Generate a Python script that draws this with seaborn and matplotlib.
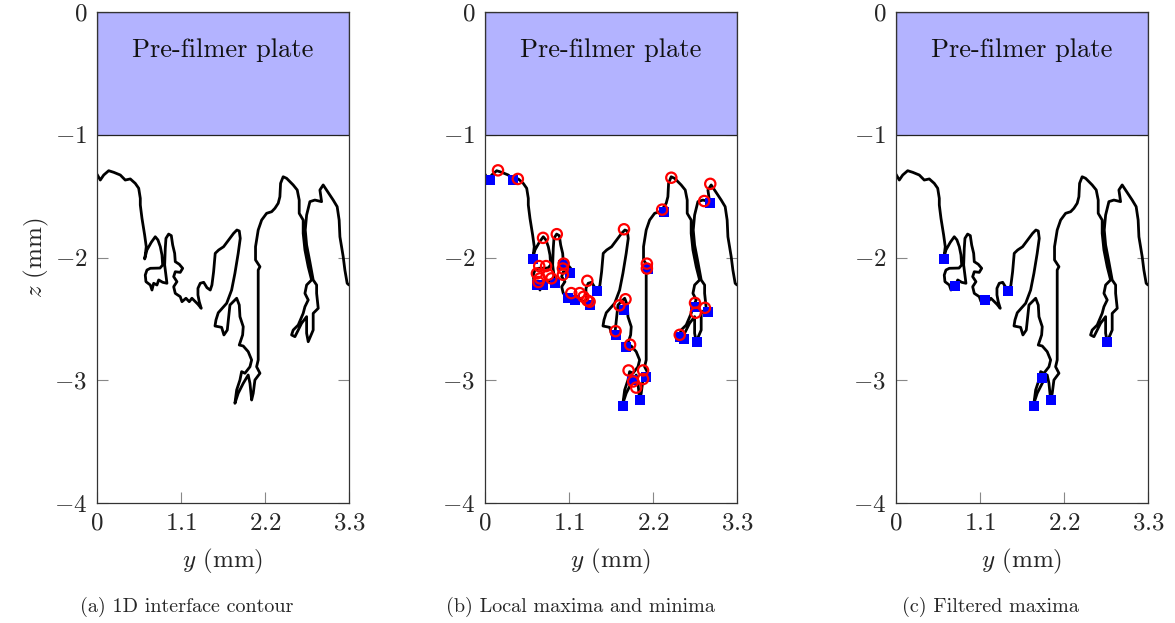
import numpy as np
import pandas as pd
import matplotlib
matplotlib.use("Agg")
import matplotlib.pyplot as plt
from matplotlib.patches import Rectangle
import seaborn as sns

# Interface contour traced along the sheet edge (y in mm, z in mm)
contour_y = [
    0.00, 0.043, 0.088, 0.153, 0.219, 0.305, 0.370, 0.436, 0.501, 0.546,
    0.567, 0.567, 0.589, 0.624, 0.645, 0.632, 0.624, 0.654, 0.711, 0.763,
    0.798, 0.829, 0.851, 0.860, 0.825, 0.698, 0.654, 0.632, 0.641, 0.698,
    0.720, 0.742, 0.785, 0.808, 0.860, 0.916, 0.903, 0.886, 0.894, 0.903,
    0.938, 0.973, 0.991, 1.017, 1.025, 1.077, 1.122, 1.090, 1.025, 1.004,
    1.047, 1.004, 1.025, 1.090, 1.113, 1.165, 1.208, 1.243, 1.287, 1.322,
    1.365, 1.339, 1.322, 1.322, 1.352, 1.397, 1.440, 1.483, 1.505, 1.527,
    1.548, 1.593, 1.658, 1.724, 1.789, 1.832, 1.863, 1.876, 1.849, 1.806,
    1.763, 1.698, 1.588, 1.558, 1.545, 1.632, 1.662, 1.706, 1.741, 1.829,
    1.863, 1.872, 1.915, 1.907, 1.863, 1.915, 1.980, 2.025, 2.003, 1.937,
    1.894, 1.872, 1.829, 1.806, 1.849, 1.915, 1.980, 2.003, 2.025, 2.046,
    2.068, 2.134, 2.090, 2.111, 2.111, 2.111, 2.111, 2.134, 2.076, 2.076,
    2.111, 2.156, 2.221, 2.287, 2.330, 2.373, 2.395, 2.404, 2.438, 2.483,
    2.569, 2.622, 2.648, 2.648, 2.700, 2.700, 2.723, 2.766, 2.810, 2.745,
    2.723, 2.766, 2.723, 2.700, 2.635, 2.569, 2.548, 2.592, 2.679, 2.745,
    2.745, 2.766, 2.831, 2.831, 2.897, 2.876, 2.876, 2.831, 2.788, 2.745,
    2.727, 2.745, 2.788, 2.853, 2.941, 2.919, 2.962, 3.006, 3.093, 3.145,
    3.171, 3.181, 3.224, 3.246, 3.276, 3.300,
]
contour_z = [
    -1.322, -1.369, -1.328, -1.293, -1.306, -1.328, -1.369, -1.360, -1.396, -1.436,
    -1.518, -1.572, -1.681, -1.817, -1.912, -1.980, -2.012, -1.939, -1.876, -1.831,
    -1.857, -1.912, -1.980, -2.061, -2.086, -2.088, -2.102, -2.143, -2.197, -2.224,
    -2.265, -2.210, -2.224, -2.183, -2.202, -2.210, -2.143, -2.061, -1.925, -1.844,
    -1.809, -1.822, -1.898, -1.966, -2.034, -2.055, -2.088, -2.121, -2.116, -2.156,
    -2.197, -2.238, -2.292, -2.319, -2.360, -2.332, -2.360, -2.332, -2.360, -2.381,
    -2.414, -2.360, -2.305, -2.251, -2.210, -2.202, -2.246, -2.265, -2.224, -2.116,
    -1.966, -1.939, -1.912, -1.857, -1.803, -1.776, -1.784, -1.844, -1.966, -2.129,
    -2.265, -2.373, -2.450, -2.509, -2.558, -2.569, -2.631, -2.591, -2.387, -2.332,
    -2.387, -2.482, -2.564, -2.631, -2.713, -2.721, -2.767, -2.835, -2.890, -2.943,
    -2.930, -2.998, -3.079, -3.188, -3.106, -3.025, -2.957, -3.025, -3.161, -3.106,
    -2.998, -2.943, -2.890, -2.835, -2.591, -2.346, -2.102, -2.075, -2.020, -1.912,
    -1.776, -1.695, -1.640, -1.627, -1.599, -1.558, -1.505, -1.396, -1.342, -1.355,
    -1.409, -1.450, -1.532, -1.640, -1.695, -1.803, -1.939, -2.075, -2.183, -2.224,
    -2.292, -2.346, -2.401, -2.455, -2.550, -2.591, -2.631, -2.645, -2.536, -2.482,
    -2.617, -2.686, -2.591, -2.455, -2.414, -2.292, -2.224, -2.183, -2.037, -1.898,
    -1.776, -1.654, -1.545, -1.532, -1.545, -1.450, -1.409, -1.450, -1.532, -1.586,
    -1.695, -1.831, -1.993, -2.102, -2.210, -2.224,
]

# Local minima found along the contour
minima_y = [0.07, 0.37, 0.63, 0.68, 0.76, 0.92, 1.02, 1.11, 1.09, 1.18,
            1.37, 1.47, 1.71, 1.82, 1.85, 1.92, 1.81, 2.03, 2.11, 2.13,
            2.34, 2.56, 2.61, 2.75, 2.77, 2.92, 2.95]
minima_z = [-1.37, -1.37, -2.01, -2.22, -2.22, -2.21, -2.06, -2.13, -2.33, -2.35,
            -2.39, -2.27, -2.63, -2.43, -2.73, -3.00, -3.21, -3.16, -2.97, -2.09,
            -1.63, -2.65, -2.66, -2.40, -2.69, -2.44, -1.56]

# Local maxima found along the contour
maxima_y = [0.17, 0.43, 0.76, 0.94, 0.71, 0.80, 0.68, 0.83, 0.72, 0.70,
            0.87, 1.03, 1.02, 1.02, 1.13, 1.24, 1.29, 1.34, 1.37, 1.34,
            1.82, 1.84, 1.76, 1.71, 1.90, 1.88, 2.07, 2.07, 1.94, 1.98,
            2.12, 2.12, 2.32, 2.44, 2.55, 2.75, 2.76, 2.88, 2.87, 2.95]
maxima_z = [-1.29, -1.36, -1.84, -1.81, -2.07, -2.07, -2.13, -2.14, -2.17, -2.20,
            -2.17, -2.05, -2.09, -2.14, -2.29, -2.29, -2.32, -2.35, -2.36, -2.19,
            -1.77, -2.34, -2.39, -2.60, -2.71, -2.92, -2.92, -2.99, -3.01, -3.06,
            -2.05, -2.09, -1.61, -1.35, -2.63, -2.37, -2.45, -2.41, -1.54, -1.40]

# Maxima kept after filtering
filtered_y = [0.63, 0.77, 1.17, 1.47, 1.91, 1.81, 2.03, 2.76]
filtered_z = [-2.01, -2.23, -2.35, -2.27, -2.98, -3.21, -3.16, -2.69]

x_ticks = [0, 1.1, 2.2, 3.3]
x_tick_labels = ["$0$", "$1.1$", "$2.2$", "$3.3$"]
z_ticks = [0, -1, -2, -3, -4]
z_tick_labels = ["$0$", "$-1$", "$-2$", "$-3$", "$-4$"]
plate_label = "Pre-filmer plate"
captions = ["(a) 1D interface contour", "(b) Local maxima and minima",
            "(c) Filtered maxima"]

sns.set_style("ticks")
plt.rcParams["font.family"] = ["cmr10", "DejaVu Serif"]
plt.rcParams["mathtext.fontset"] = "cm"
plt.rcParams["axes.formatter.use_mathtext"] = True

contour = pd.DataFrame({"y": contour_y, "z": contour_z})
minima = pd.DataFrame({"y": minima_y, "z": minima_z})
maxima = pd.DataFrame({"y": maxima_y, "z": maxima_z})
filtered = pd.DataFrame({"y": filtered_y, "z": filtered_z})

fig = plt.figure(figsize=(11.75, 6.23), dpi=100)
W, H = 1175, 623
lefts = [97, 485, 896]
ax_w, ax_top, ax_bot = 252, 12, 503
caption_x = [187, 580, 990]

for i, left in enumerate(lefts):
    ax = fig.add_axes([left / W, 1 - ax_bot / H, ax_w / W, (ax_bot - ax_top) / H])
    ax.set_xlim(0, 3.3)
    ax.set_ylim(-4, 0)

    ax.add_patch(Rectangle((0, -1), 3.3, 1, facecolor="#b3b3ff",
                           edgecolor="#222222", linewidth=0.9, zorder=3))
    ax.text(1.65, -0.31, plate_label, ha="center", va="center",
            fontsize=19, color="#111111", zorder=4)

    sns.lineplot(data=contour, x="y", y="z", sort=False, estimator=None,
                 color="black", linewidth=2.0, ax=ax, zorder=2)

    if i == 1:
        sns.scatterplot(data=minima, x="y", y="z", marker="s", s=60,
                        color="#0000ff", linewidth=0, ax=ax, zorder=5)
        sns.scatterplot(data=maxima, x="y", y="z", marker="o", s=55,
                        facecolor="none", edgecolor="#ff0000", linewidth=1.6,
                        ax=ax, zorder=6)
    elif i == 2:
        sns.scatterplot(data=filtered, x="y", y="z", marker="s", s=60,
                        color="#0000ff", linewidth=0, ax=ax, zorder=5)

    ax.set_xticks(x_ticks, x_tick_labels)
    ax.set_yticks(z_ticks, z_tick_labels)
    ax.tick_params(direction="in", length=8, width=0.8, color="#888888",
                   labelsize=18, top=False, right=True, pad=7)
    for sp in ax.spines.values():
        sp.set_color("#333333")
        sp.set_linewidth(0.9)
        sp.set_zorder(7)

    ax.set_xlabel("$y$ (mm)", fontsize=18, labelpad=9)
    if i == 0:
        ax.set_ylabel("$z$ (mm)", fontsize=18, labelpad=2)
    else:
        ax.set_ylabel("")

    fig.text(caption_x[i] / W, 1 - 607 / H, captions[i], ha="center",
             va="center", fontsize=14.5)

fig.savefig("out.png", dpi=100)
